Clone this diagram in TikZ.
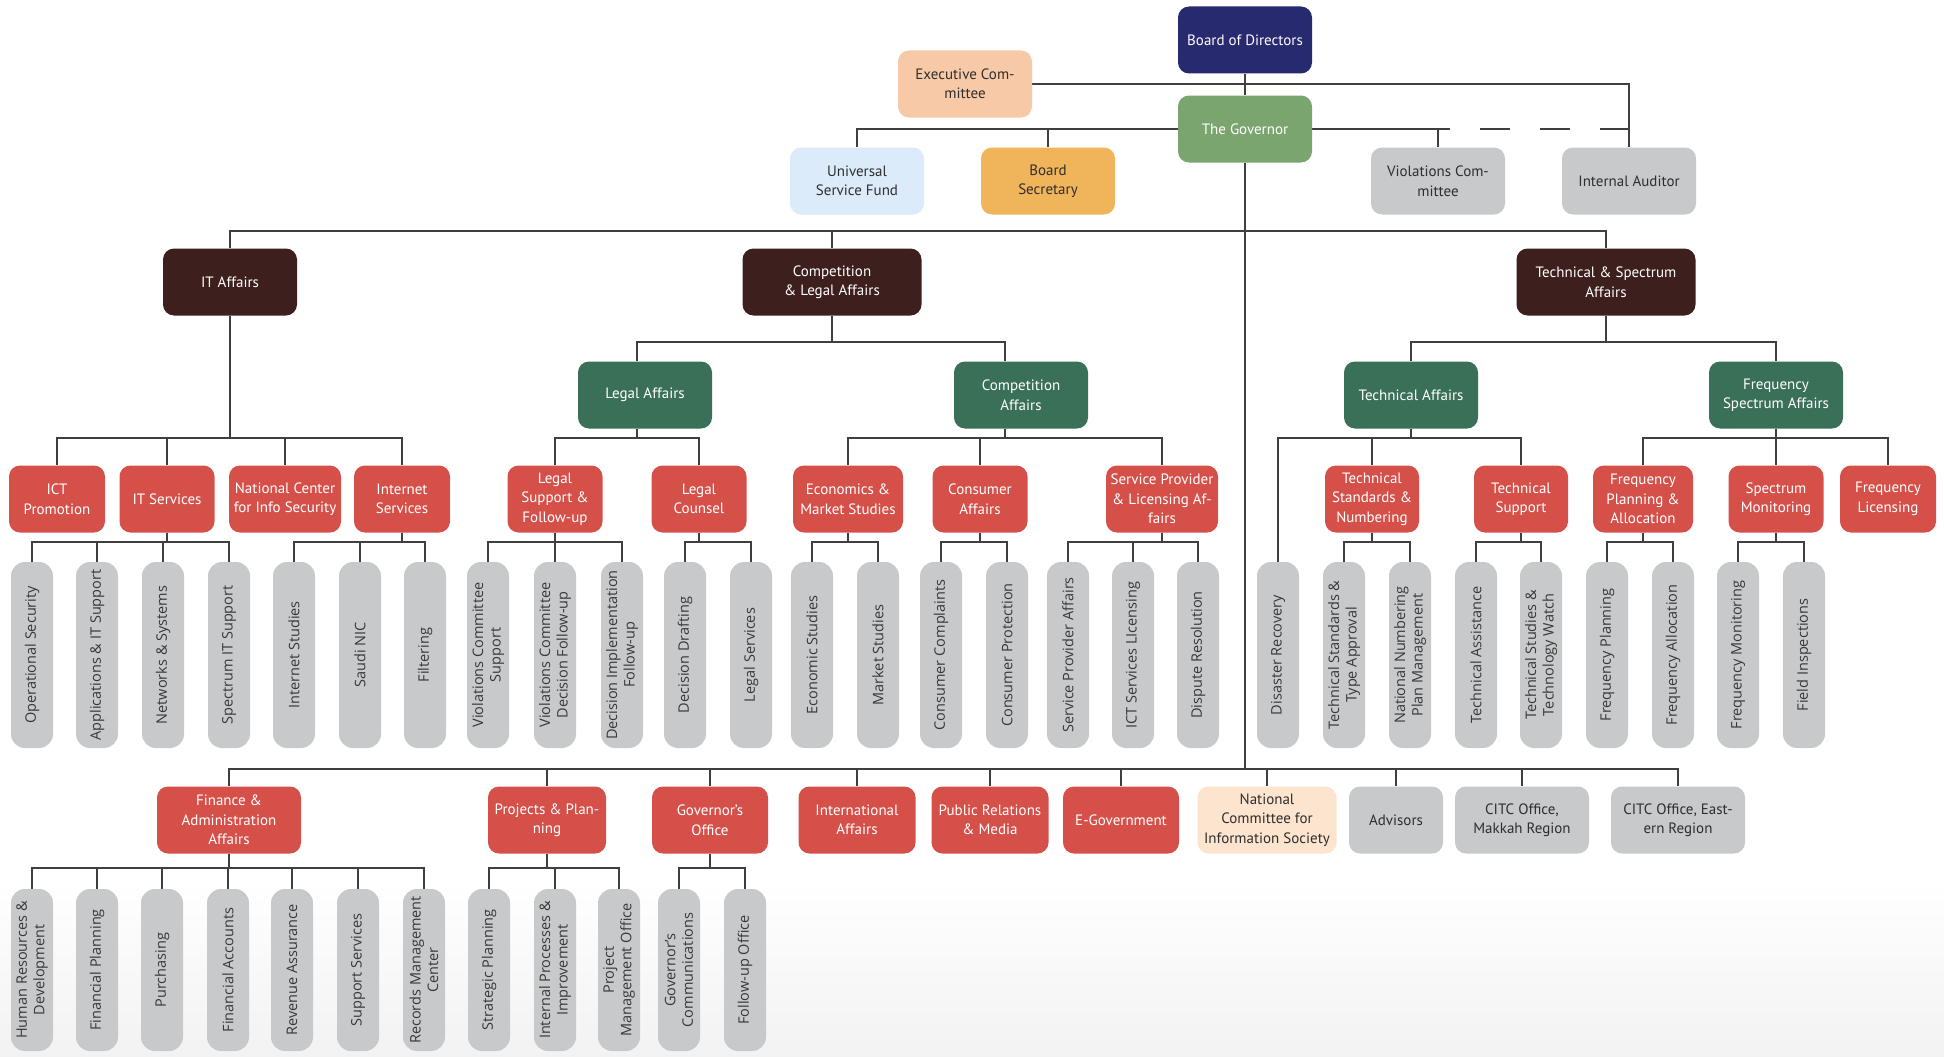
\documentclass[tikz,border=0pt]{standalone}
\usepackage{fontspec}
\setmainfont{PT Sans}
\newfontfamily\greyfont{Open Sans}
\usetikzlibrary{backgrounds}
\definecolor{navyc}{HTML}{272A6E}
\definecolor{peachc}{HTML}{F8C9A6}
\definecolor{govc}{HTML}{7BA56F}
\definecolor{lbluec}{HTML}{DCEBF9}
\definecolor{orangec}{HTML}{F0B55B}
\definecolor{greyc}{HTML}{C8C9CB}
\definecolor{brownc}{HTML}{3D201D}
\definecolor{dgreenc}{HTML}{3B7058}
\definecolor{redc}{HTML}{D6504A}
\definecolor{lpeachc}{HTML}{FCE4CE}
\definecolor{tdark}{HTML}{2E2E2E}
\definecolor{tgrey}{HTML}{383838}
\definecolor{linec}{HTML}{3F3F3F}
\begin{document}
\begin{tikzpicture}[x=1pt,y=-1pt,
  conn/.style={draw=linec, line width=1.6pt},
  box/.style={rounded corners=11pt, inner sep=1pt, align=center, font=\fontsize{15}{19.5}\selectfont, minimum height=67pt, minimum width=134pt, text=white},
  brownbox/.style={box, fill=brownc},
  greenbox/.style={box, fill=dgreenc},
  redbox/.style={box, fill=redc},
  lightbox/.style={box, text=tdark},
  vbox/.style={rotate=90, fill=greyc, rounded corners=14pt, minimum width=186pt, minimum height=42pt, inner sep=0pt, align=center, font=\greyfont\fontsize{14.5}{17.5}\selectfont, text=tgrey},
  vboxb/.style={vbox, minimum width=162pt}]
\useasboundingbox (0,0) rectangle (1944,1057);

% top
\node[box, fill=navyc] (bod) at (1245,40) {Board of Directors};
\node[lightbox, fill=peachc] (exec) at (965,84) {Executive Com-\\mittee};
\node[box, fill=govc] (gov) at (1245,129) {The Governor};
\node[lightbox, fill=lbluec] (usf) at (857,181) {Universal\\Service Fund};
\node[lightbox, fill=orangec] (bsec) at (1048,181) {Board\\Secretary};
\node[lightbox, fill=greyc] (viol) at (1438,181) {Violations Com-\\mittee};
\node[lightbox, fill=greyc] (audit) at (1629,181) {Internal Auditor};

% row 2
\node[brownbox] (itaff) at (230,282) {IT Affairs};
\node[brownbox, minimum width=179pt] (cla) at (832,282) {Competition\\\& Legal Affairs};
\node[brownbox, minimum width=179pt] (tsa) at (1606,282) {Technical \& Spectrum\\Affairs};

% row 3
\node[greenbox] (legal) at (645,395) {Legal Affairs};
\node[greenbox] (comp) at (1021,395) {Competition\\Affairs};
\node[greenbox] (techaff) at (1411,395) {Technical Affairs};
\node[greenbox] (fsa) at (1776,395) {Frequency\\Spectrum Affairs};

% row 4
\node[redbox, minimum width=96pt] (ictp) at (57,499) {ICT\\Promotion};
\node[redbox, minimum width=95pt] (itserv) at (167,499) {IT Services};
\node[redbox, minimum width=112pt] (ncis) at (285,499) {National Center\\for Info Security};
\node[redbox, minimum width=96pt] (inets) at (402,499) {Internet\\Services};
\node[redbox, minimum width=95pt] (lsup) at (555,499) {Legal\\Support \&\\Follow-up};
\node[redbox, minimum width=95pt] (lcoun) at (699,499) {Legal\\Counsel};
\node[redbox, minimum width=110pt] (econ) at (848,499) {Economics \&\\Market Studies};
\node[redbox, minimum width=95pt] (cons) at (980,499) {Consumer\\Affairs};
\node[redbox, minimum width=112pt] (spla) at (1162,499) {Service Provider\\\& Licensing Af-\\fairs};
\node[redbox, minimum width=94pt] (tsn) at (1372,499) {Technical\\Standards \&\\Numbering};
\node[redbox, minimum width=94pt] (tsup) at (1521,499) {Technical\\Support};
\node[redbox, minimum width=100pt] (fpa) at (1643,499) {Frequency\\Planning \&\\Allocation};
\node[redbox, minimum width=95pt] (smon) at (1776,499) {Spectrum\\Monitoring};
\node[redbox, minimum width=96pt] (flic) at (1888,499) {Frequency\\Licensing};

% row 5
\node[vbox] (os) at (32,655) {Operational Security};
\node[vbox] (ais) at (97,655) {Applications \& IT Support};
\node[vbox] (nws) at (163,655) {Networks \& Systems};
\node[vbox] (sits) at (229,655) {Spectrum IT Support};
\node[vbox] (ist) at (294,655) {Internet Studies};
\node[vbox] (snic) at (360,655) {Saudi NIC};
\node[vbox] (filt) at (425,655) {Filtering};
\node[vbox] (vcs) at (488,655) {Violations Committee\\Support};
\node[vbox] (vcd) at (555,655) {Violations Committee\\Decision Follow-up};
\node[vbox] (dif) at (622,655) {Decision Implementation\\Follow-up};
\node[vbox] (dd) at (685,655) {Decision Drafting};
\node[vbox] (ls) at (751,655) {Legal Services};
\node[vbox] (es) at (812,655) {Economic Studies};
\node[vbox] (ms) at (878,655) {Market Studies};
\node[vbox] (cc) at (941,655) {Consumer Complaints};
\node[vbox] (cp) at (1007,655) {Consumer Protection};
\node[vbox] (spa) at (1068,655) {Service Provider Affairs};
\node[vbox] (icl) at (1133,655) {ICT Services LIcensing};
\node[vbox] (dres) at (1198,655) {Dispute Resolution};
\node[vbox] (dr) at (1278,655) {Disaster Recovery};
\node[vbox] (tsta) at (1344,655) {Technical Standards \&\\Type Approval};
\node[vbox] (nnpm) at (1410,655) {National Numbering\\Plan Management};
\node[vbox] (ta) at (1476,655) {Technical Assistance};
\node[vbox] (tstw) at (1541,655) {Technical Studies \&\\Technology Watch};
\node[vbox] (fp) at (1607,655) {Frequency Planning};
\node[vbox] (fa) at (1673,655) {Frequency Allocation};
\node[vbox] (fm) at (1738,655) {Frequency Monitoring};
\node[vbox] (fi) at (1804,655) {Field Inspections};

% row 6
\node[redbox, minimum width=144pt] (fin) at (229,820) {Finance \&\\Administration\\Affairs};
\node[redbox, minimum width=118pt] (proj) at (547,820) {Projects \& Plan-\\ning};
\node[redbox, minimum width=116pt] (govoff) at (710,820) {Governor’s\\Office};
\node[redbox, minimum width=117pt] (intl) at (857,820) {International\\Affairs};
\node[redbox, minimum width=117pt] (pr) at (990,820) {Public Relations\\\& Media};
\node[redbox, minimum width=116pt] (egov) at (1121,820) {E-Government};
\node[lightbox, fill=lpeachc, minimum width=139pt] (ncomm) at (1267,820) {National\\Committee for\\Information Society};
\node[lightbox, fill=greyc, minimum width=94pt] (adv) at (1396,820) {Advisors};
\node[lightbox, fill=greyc] (makkah) at (1522,820) {CITC Office,\\Makkah Region};
\node[lightbox, fill=greyc] (eastern) at (1678,820) {CITC Office, East-\\ern Region};

% row 7
\node[vboxb] (hrd) at (32,970) {Human Resources \&\\Development};
\node[vboxb] (finp) at (97,970) {Financial Planning};
\node[vboxb] (purch) at (162,970) {Purchasing};
\node[vboxb] (facc) at (228,970) {Financial Accounts};
\node[vboxb] (rev) at (292,970) {Revenue Assurance};
\node[vboxb] (sups) at (358,970) {Support Services};
\node[vboxb] (rmc) at (424,970) {Records Management\\Center};
\node[vboxb] (stp) at (489,970) {Strategic Planning};
\node[vboxb] (ipi) at (555,970) {Internal Processes \&\\Improvement};
\node[vboxb] (pmo) at (619,970) {Project\\Management Office};
\node[vboxb] (gcom) at (679,970) {Governor’s\\Communications};
\node[vboxb] (fuo) at (745,970) {Follow-up Office};

\begin{scope}[on background layer]
\fill[white] (0,0) rectangle (1944,1057);
\shade[top color=white, bottom color=black!5] (0,880) rectangle (1944,1057);
% top
\draw[conn] (bod) -- (gov);
\draw[conn] (exec.east) -| (audit.north);
\draw[conn] (gov.west) -| (usf.north);
\draw[conn] (gov.west -| bsec.north) -- (bsec.north);
\draw[conn] (gov.east) -| (viol.north);
\coordinate (dashstart) at (1420,129);
\draw[conn, dash pattern=on 30pt off 30pt] (dashstart) -- (dashstart -| audit.north);
% trunk
\coordinate (trunkend) at (1245,769);
\draw[conn] (gov.south) -- (trunkend);
\foreach \n in {itaff,cla,tsa} \draw[conn] (gov.south |- 0,231) -| (\n.north);
\foreach \n in {fin,proj,govoff,intl,pr,egov,ncomm,adv,makkah,eastern} \draw[conn] (trunkend) -| (\n.north);
% row 3
\draw[conn] (cla.south) -- (cla.south |- 0,342);
\draw[conn] ([xshift=-8pt]legal.north) |- (cla.south |- 0,342);
\draw[conn] ([xshift=-16pt]comp.north) |- (cla.south |- 0,342);
\draw[conn] (tsa.south) -- (tsa.south |- 0,342);
\foreach \n in {techaff,fsa} \draw[conn] (tsa.south |- 0,342) -| (\n.north);
% row 4
\foreach \n in {ictp,itserv,ncis,inets} \draw[conn] (itaff.south) -- (itaff.south |- 0,438) -| (\n.north);
\foreach \n in {lsup,lcoun} \draw[conn] ([xshift=-8pt]legal.south) -- ([xshift=-8pt]legal.south |- 0,438) -| (\n.north);
\foreach \n in {econ,cons,spla} \draw[conn] ([xshift=-16pt]comp.south) -- ([xshift=-16pt]comp.south |- 0,438) -| (\n.north);
\foreach \n in {tsn,tsup} \draw[conn] (techaff.south) -- (techaff.south |- 0,438) -| (\n.north);
\draw[conn] (techaff.south |- 0,438) -| (dr.east);
\foreach \n in {fpa,smon,flic} \draw[conn] (fsa.south) -- (fsa.south |- 0,438) -| (\n.north);
% row 5
\foreach \p/\cs in {itserv/{os,ais,nws,sits},inets/{ist,snic,filt},lsup/{vcs,vcd,dif},lcoun/{dd,ls},econ/{es,ms},cons/{cc,cp},spla/{spa,icl,dres},tsn/{tsta,nnpm},tsup/{ta,tstw},fpa/{fp,fa},smon/{fm,fi}}{
  \foreach \c in \cs {\draw[conn] (\p.south) -- (\p.south |- 0,542) -| (\c.east);}
}
% row 7
\foreach \p/\cs in {fin/{hrd,finp,purch,facc,rev,sups,rmc},proj/{stp,ipi,pmo},govoff/{gcom,fuo}}{
  \foreach \c in \cs {\draw[conn] (\p.south) -- (\p.south |- 0,868) -| (\c.east);}
}
\end{scope}
\end{tikzpicture}
\end{document}
